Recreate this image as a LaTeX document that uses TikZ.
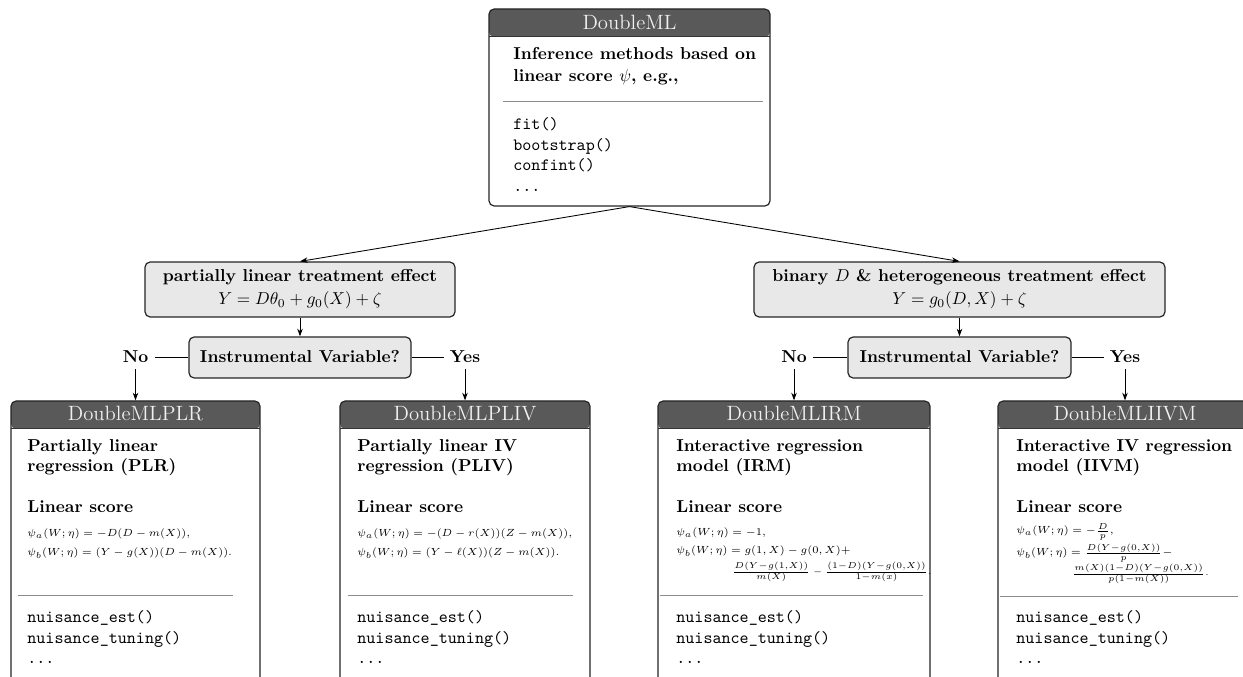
\documentclass[tikz,border=0pt]{standalone}
\usepackage{amsmath}
\usetikzlibrary{arrows.meta,fit}
\definecolor{hdr}{HTML}{595959}
\definecolor{midfill}{HTML}{E8E8E8}
\definecolor{rulec}{HTML}{8C8C8C}
\definecolor{hdrtext}{HTML}{F0F0F0}
\tikzset{
  box/.style={draw=black!85, line width=0.7pt, rounded corners=3pt, inner sep=0pt, fill=white},
  hdrbox/.style={box, path picture={\fill[hdr] (path picture bounding box.north west) rectangle ([yshift=-16.2pt]path picture bounding box.north east);
     \draw[black!80, line width=0.6pt] ([yshift=-16.2pt]path picture bounding box.north west) -- ([yshift=-16.2pt]path picture bounding box.north east);}},
  midbox/.style={draw=black!85, line width=0.7pt, fill=midfill, rounded corners=3pt, inner sep=0pt},
  txt/.style={inner sep=0pt, anchor=base west},
  btxt/.style={txt, font=\bfseries},
  ttxt/.style={txt, font=\ttfamily},
  mtxt/.style={txt, font=\fontsize{6}{7}\selectfont},
  ftxt/.style={txt, font=\fontsize{5.5}{6.5}\selectfont},
  ctxt/.style={inner sep=0pt, anchor=base},
  titletxt/.style={ctxt, text=hdrtext, font=\large},
  yesno/.style={anchor=base, inner sep=3.5pt, font=\bfseries},
  hrule/.style={draw=rulec, line width=0.5pt},
  arr/.style={-{Stealth[length=4.5pt,width=3.2pt]}, line width=0.5pt},
  conn/.style={line width=0.5pt},
}
\begin{document}
\begin{tikzpicture}[x=0.58pt,y=-0.58pt]
\useasboundingbox (0,0) rectangle (1243,677);
\clip (0,0) rectangle (1243,677);
\fill[white] (0,0) rectangle (1243,677);

% ---------- top box ----------
\node[hdrbox, fit={(489,9)(770,206)}] (dml) {};
\node[titletxt] (dmlt) at (629.5,30) {DoubleML};
\node[btxt] (dml1) at (513,60) {Inference methods based on};
\node[btxt] (dml2) at (513,82) {linear score $\psi$, e.g.,};
\draw[hrule] (503,101) -- (763,101);
\node[ttxt] (dml3) at (513,130) {fit()};
\node[ttxt] (dml4) at (513,150.5) {bootstrap()};
\node[ttxt] (dml5) at (513,171) {confint()};
\node[ttxt] (dml6) at (513,191.5) {...};

% ---------- middle boxes ----------
\node[midbox, fit={(145,262)(455,317)}] (plm) {};
\node[ctxt, font=\bfseries] (plm1) at (300,282) {partially linear treatment effect};
\node[ctxt] (plm2) at (300,304.5) {$Y = D\theta_0 + g_0(X) + \zeta$};

\node[midbox, fit={(754,262)(1165,317)}] (hte) {};
\node[ctxt, font=\bfseries] (hte1) at (959.5,282) {binary $D$ \& heterogeneous treatment effect};
\node[ctxt] (hte2) at (959.5,304.5) {$Y = g_0(D,X) + \zeta$};

\node[midbox, fit={(189,337)(411,378)}] (ivl) {};
\node[ctxt, font=\bfseries] (ivlt) at (300,363) {Instrumental Variable?};
\node[midbox, fit={(848,337)(1071,378)}] (ivr) {};
\node[ctxt, font=\bfseries] (ivrt) at (959.5,363) {Instrumental Variable?};

\node[yesno] (nol) at (135.5,363) {No};
\node[yesno] (yesl) at (465,363) {Yes};
\node[yesno] (nor) at (794,363) {No};
\node[yesno] (yesr) at (1125,363) {Yes};

% ---------- bottom boxes ----------
\node[hdrbox, fit={(11,401)(260,720)}] (plr) {};
\node[titletxt] (plrt) at (135.5,421) {DoubleMLPLR};
\node[btxt] (plr1) at (27,452) {Partially linear};
\node[btxt] (plr2) at (27,472) {regression (PLR)};
\node[btxt] (plr3) at (27,513) {Linear score};
\node[mtxt] (plr4) at (27,537) {$\psi_a(W;\eta) = -D(D-m(X)),$};
\node[mtxt] (plr5) at (27,556) {$\psi_b(W;\eta) = (Y-g(X))(D-m(X)).$};
\draw[hrule] (18,595) -- (233,595);
\node[ttxt] (plr6) at (27,622) {nuisance\_est()};
\node[ttxt] (plr7) at (27,643) {nuisance\_tuning()};
\node[ttxt] (plr8) at (27,663.5) {...};

\node[hdrbox, fit={(340,401)(590,720)}] (pliv) {};
\node[titletxt] (plivt) at (465,421) {DoubleMLPLIV};
\node[btxt] (pliv1) at (357,452) {Partially linear IV};
\node[btxt] (pliv2) at (357,472) {regression (PLIV)};
\node[btxt] (pliv3) at (357,513) {Linear score};
\node[mtxt] (pliv4) at (357,537) {$\psi_a(W;\eta) = -(D-r(X))(Z-m(X)),$};
\node[mtxt] (pliv5) at (357,556) {$\psi_b(W;\eta) = (Y-\ell(X))(Z-m(X)).$};
\draw[hrule] (348,595) -- (573,595);
\node[ttxt] (pliv6) at (357,622) {nuisance\_est()};
\node[ttxt] (pliv7) at (357,643) {nuisance\_tuning()};
\node[ttxt] (pliv8) at (357,663.5) {...};

\node[hdrbox, fit={(658,401)(930,720)}] (irm) {};
\node[titletxt] (irmt) at (794,421) {DoubleMLIRM};
\node[btxt] (irm1) at (676,452) {Interactive regression};
\node[btxt] (irm2) at (676,472) {model (IRM)};
\node[btxt] (irm3) at (676,513) {Linear score};
\node[mtxt] (irm4) at (676,536) {$\psi_a(W;\eta) = -1,$};
\node[mtxt] (irm5) at (676,554) {$\psi_b(W;\eta) = g(1,X) - g(0,X) +$};
\node[ftxt] (irm6) at (732,574) {$\frac{D(Y-g(1,X))}{m(X)} - \frac{(1-D)(Y-g(0,X))}{1-m(x)}.$};
\draw[hrule] (660,595) -- (923,595);
\node[ttxt] (irm7) at (676,622) {nuisance\_est()};
\node[ttxt] (irm8) at (676,643) {nuisance\_tuning()};
\node[ttxt] (irm9) at (676,663.5) {...};

\node[hdrbox, fit={(998,401)(1252,720)}] (iivm) {};
\node[titletxt] (iivmt) at (1125,421) {DoubleMLIIVM};
\node[btxt] (iivm1) at (1016,452) {Interactive IV regression};
\node[btxt] (iivm2) at (1016,472) {model (IIVM)};
\node[btxt] (iivm3) at (1016,513) {Linear score};
\node[mtxt] (iivm4) at (1016,534) {$\psi_a(W;\eta) = -\frac{D}{p},$};
\node[mtxt] (iivm5) at (1016,556) {$\psi_b(W;\eta) = \frac{D(Y-g(0,X))}{p} -$};
\node[ftxt] (iivm6) at (1072,576) {$\frac{m(X)(1-D)(Y-g(0,X))}{p(1-m(X))}.$};
\draw[hrule] (1000,596) -- (1238,596);
\node[ttxt] (iivm7) at (1016,622) {nuisance\_est()};
\node[ttxt] (iivm8) at (1016,643) {nuisance\_tuning()};
\node[ttxt] (iivm9) at (1016,663.5) {...};

% ---------- connectors ----------
\draw[arr] (dml.south) -- (plm.north);
\draw[arr] (dml.south) -- (hte.north);
\draw[arr] (plm.south) -- (ivl.north);
\draw[arr] (hte.south) -- (ivr.north);
\draw[conn] (ivl.west) -- (ivl.west -| nol.east);
\draw[conn] (ivl.east) -- (ivl.east -| yesl.west);
\draw[conn] (ivr.west) -- (ivr.west -| nor.east);
\draw[conn] (ivr.east) -- (ivr.east -| yesr.west);
\draw[arr] (nol.south) -- (nol.south |- plr.north);
\draw[arr] (yesl.south) -- (yesl.south |- pliv.north);
\draw[arr] (nor.south) -- (nor.south |- irm.north);
\draw[arr] (yesr.south) -- (yesr.south |- iivm.north);
\end{tikzpicture}
\end{document}
